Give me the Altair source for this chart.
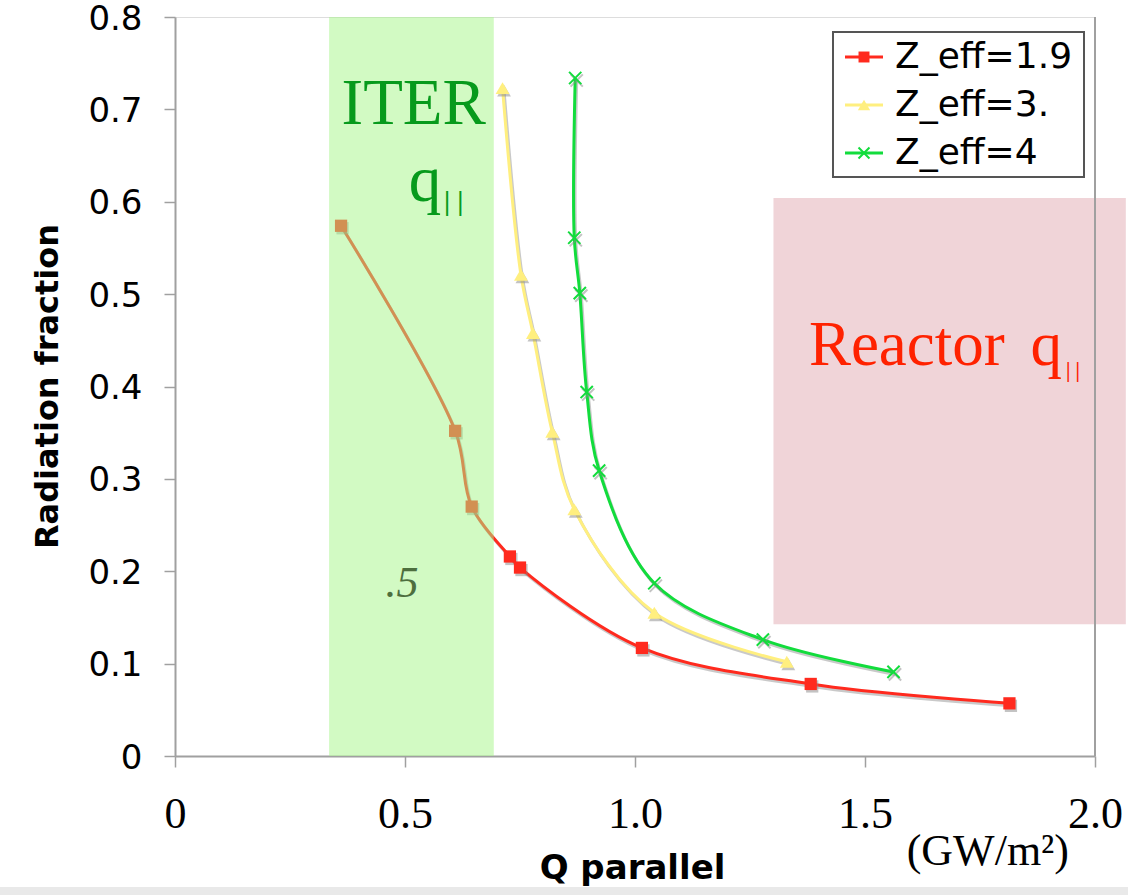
import altair as alt
import pandas as pd

# ---- data ----
series_names = ["Z_eff=1.9", "Z_eff=3.", "Z_eff=4"]
x_z19 = [0.361, 0.609, 0.645, 0.728, 0.750, 1.015, 1.382, 1.814]
y_z19 = [0.574, 0.352, 0.270, 0.216, 0.204, 0.117, 0.078, 0.057]
x_z3 = [0.712, 0.752, 0.778, 0.820, 0.868, 1.042, 1.330]
y_z3 = [0.723, 0.521, 0.458, 0.351, 0.267, 0.155, 0.102]
x_z4 = [0.870, 0.868, 0.880, 0.895, 0.922, 1.042, 1.278, 1.562]
y_z4 = [0.734, 0.561, 0.501, 0.394, 0.309, 0.187, 0.126, 0.091]

x_ticks = [0, 0.5, 1.0, 1.5, 2.0]
y_ticks = [0, 0.1, 0.2, 0.3, 0.4, 0.5, 0.6, 0.7, 0.8]

iter_band = {"x": 0.335, "x2": 0.693, "y": 0.0, "y2": 0.8}
reactor_box = {"x": 1.301, "x2": 2.067, "y": 0.1425, "y2": 0.604}

# ---- styles ----
colors = ["#ff2a1e", "#ffef7f", "#12dc3c"]
shapes = ["square", "triangle-up", "M-1,-1L1,1M-1,1L1,-1"]
sizes = [150, 190, 150]
filled = [True, True, False]

rows = []
for name, xs, ys in zip(series_names, [x_z19, x_z3, x_z4], [y_z19, y_z3, y_z4]):
    for i, (xv, yv) in enumerate(zip(xs, ys)):
        rows.append({"series": name, "x": xv, "y": yv, "idx": i})
df = pd.DataFrame(rows)

xscale = alt.Scale(domain=[0, 2], nice=False, zero=False)
yscale = alt.Scale(domain=[0, 0.8], nice=False, zero=False)
cscale = alt.Scale(domain=series_names, range=colors)

X = alt.X("x:Q", scale=xscale, axis=alt.Axis(
    values=x_ticks, title="Q parallel",
    labelExpr="datum.value == 0 ? '0' : format(datum.value, '.1f')",
    labelFont="Liberation Serif", labelFontSize=44, labelColor="#000",
    labelBaseline="alphabetic", labelPadding=60, labelFlush=False,
    domainColor="#a0a0a0", domainWidth=2, tickColor="#a0a0a0", tickSize=11, tickWidth=1.5,
    grid=False, titleFont="DejaVu Sans", titleFontWeight="bold", titleFontSize=34,
    titleColor="#000", titleX=457, titleY=122, titleBaseline="alphabetic", titleAlign="center"))
Y = alt.Y("y:Q", scale=yscale, axis=alt.Axis(
    values=y_ticks, title="Radiation fraction",
    labelExpr="datum.value == 0 ? '0' : format(datum.value, '.1f')",
    labelFont="DejaVu Sans", labelFontSize=34, labelColor="#000", labelPadding=22,
    labelOffset=2, labelFlush=False,
    domainColor="#a0a0a0", domainWidth=2, tickColor="#a0a0a0", tickSize=11, tickWidth=1.5,
    grid=False, titleFont="DejaVu Sans", titleFontWeight="bold", titleFontSize=32,
    titleColor="#000", titleAngle=270, titleX=-128, titleY=369, titleAlign="center",
    titleBaseline="middle"))

base = alt.Chart(df)

# bottom gray strip (page decoration)
strip = alt.Chart(pd.DataFrame({"a": [0]})).mark_rect(color="#e9e9e9").encode(
    x=alt.value(-175), x2=alt.value(953), y=alt.value(870), y2=alt.value(878))

reactor = alt.Chart(pd.DataFrame([reactor_box])).mark_rect(color="#f0d4d8").encode(
    x=alt.X("x:Q", scale=xscale), x2="x2:Q", y=alt.Y("y:Q", scale=yscale), y2="y2:Q")

border = alt.Chart(pd.DataFrame({"a": [0]})).mark_rule(color="#a0a0a0", strokeWidth=2).encode(
    x=alt.datum(2.0, scale=xscale), y=alt.datum(0.0, scale=yscale), y2=alt.datum(0.8))

shadow = base.mark_line(interpolate="catmull-rom", strokeWidth=3, color="#888888",
                        opacity=0.45, xOffset=1.5, yOffset=2.5).encode(
    x=X, y=Y, detail="series:N", order="idx:Q")
lines = base.mark_line(interpolate="catmull-rom", strokeWidth=3).encode(
    x=X, y=Y, color=alt.Color("series:N", scale=cscale, legend=None), order="idx:Q")

point_layers = []
for name, shp, sz, fl in zip(series_names, shapes, sizes, filled):
    sub = base.transform_filter(alt.datum.series == name)
    if fl:
        sh = sub.mark_point(shape=shp, size=sz, filled=True, color="#888888", opacity=0.5,
                            xOffset=1.5, yOffset=2.5)
        pt = sub.mark_point(shape=shp, size=sz, filled=True, opacity=1)
    else:
        sh = sub.mark_point(shape=shp, size=sz, filled=False, color="#888888", opacity=0.5,
                            strokeWidth=2, xOffset=1.5, yOffset=2.5)
        pt = sub.mark_point(shape=shp, size=sz, filled=False, strokeWidth=2, opacity=1)
    point_layers.append(sh.encode(x=X, y=Y))
    point_layers.append(pt.encode(x=X, y=Y, color=alt.Color("series:N", scale=cscale, legend=None)))

band = alt.Chart(pd.DataFrame([iter_band])).mark_rect(color="#a5f587", opacity=0.5).encode(
    x=alt.X("x:Q", scale=xscale), x2="x2:Q", y=alt.Y("y:Q", scale=yscale), y2="y2:Q")

def label(txt, xv, yv, size, color, align="left", style="normal", weight="normal",
          font="Liberation Serif"):
    return alt.Chart(pd.DataFrame({"t": [txt], "x": [xv], "y": [yv]})).mark_text(
        font=font, fontSize=size, color=color, align=align, baseline="alphabetic",
        fontStyle=style, fontWeight=weight).encode(
        x=alt.X("x:Q", scale=xscale), y=alt.Y("y:Q", scale=yscale), text="t:N")

texts = [
    label("ITER", 0.362, 0.684, 65, "#079a1c"),
    label("q", 0.508, 0.601, 65, "#079a1c"),
    label("| |", 0.585, 0.591, 28, "#079a1c", weight="bold"),
    label(".5", 0.4935, 0.172, 44, "#4d6e3e", align="center", style="italic"),
    label("Reactor", 1.378, 0.423, 63, "#ff2200"),
    label("q", 1.860, 0.423, 63, "#ff2200"),
    label("| |", 1.937, 0.410, 20, "#ff2200", weight="bold"),
    label("(GW/m²)", 1.767, -0.118, 44, "#000000", align="center"),
]

# ---- legend ----
leg_df = pd.DataFrame({"series": series_names, "k": list(range(len(series_names)))})
leg = alt.Chart(leg_df).transform_calculate(ly="40 + 48 * datum.k")
leg_box = alt.Chart(pd.DataFrame({"a": [0]})).mark_rect(
    fill="white", stroke="#555555", strokeWidth=2).encode(
    x=alt.value(658), x2=alt.value(909), y=alt.value(15), y2=alt.value(160))
leg_lines = leg.mark_rule(strokeWidth=3).encode(
    x=alt.value(670), x2=alt.value(708), y=alt.Y("ly:Q", scale=None),
    color=alt.Color("series:N", scale=cscale, legend=None))
leg_pts = []
for name, shp, sz, fl in zip(series_names, shapes, sizes, filled):
    sub = leg.transform_filter(alt.datum.series == name)
    leg_pts.append(sub.mark_point(shape=shp, size=sz * 0.8, filled=fl, opacity=1,
                                  strokeWidth=2).encode(
        x=alt.value(689), y=alt.Y("ly:Q", scale=None),
        color=alt.Color("series:N", scale=cscale, legend=None)))
leg_text = leg.mark_text(font="DejaVu Sans", fontSize=36, align="left", baseline="middle",
                         color="#000").encode(
    x=alt.value(720), y=alt.Y("ly:Q", scale=None), text="series:N")

chart = alt.layer(
    strip, reactor, border, shadow, lines, *point_layers, band, *texts,
    leg_box, leg_lines, *leg_pts, leg_text
).properties(
    width=920, height=739,
    autosize=alt.AutoSizeParams(type="none"),
    padding={"left": 175, "top": 17, "right": 33, "bottom": 139},
).configure_view(stroke=None).configure(background="white")

chart.save("out.html", embed_options={"renderer": "svg", "actions": False})
